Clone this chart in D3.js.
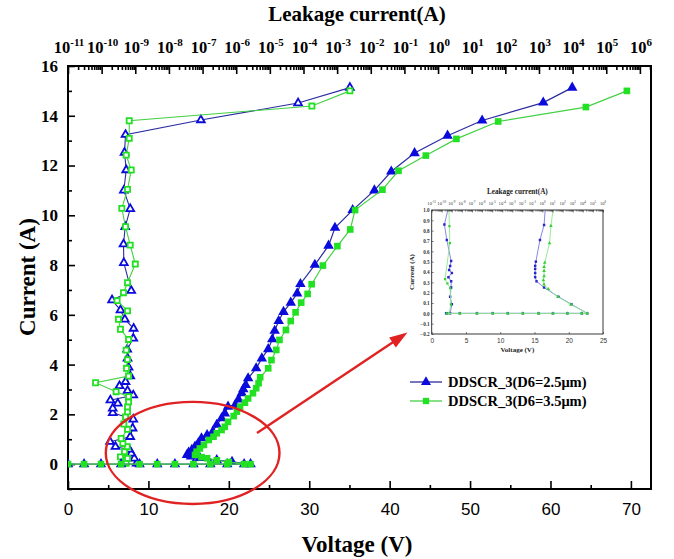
<!DOCTYPE html>
<html><head><meta charset="utf-8">
<script src="https://cdn.jsdelivr.net/npm/d3@7"></script>
<style>body{margin:0;background:#fff}</style>
</head><body>
<svg id="c" width="674" height="559"></svg>
<script>
// ---------- DATA ----------
// Main I-V curves (Voltage V, Current A), filled markers
const blueV = [0,2,4.1,6.6,8.9,11.1,13.3,15.6,17.7,19.8,21.9,22.7,20.4,18.5,16.4,15.3,14.8,15.0,15.4,15.8,16.2,16.6,17.3,18.0,18.5,19.1,19.5,19.9,20.8,21.2,21.6,21.8,22.1,22.4,23.4,24.1,24.9,25.4,25.7,26.2,26.8,27.7,28.5,28.9,30.7,32.4,33.2,35.4,38.1,40.2,43.1,47.2,51.5,59.1,62.7];
const blueI = [0,0,0,0,0,0,0,0,0,0,0,0,0.087,0.16,0.25,0.31,0.37,0.46,0.57,0.70,0.84,1.04,1.17,1.30,1.58,1.84,2.04,2.31,2.38,2.60,2.85,3.01,3.18,3.45,3.85,4.25,4.62,5.02,5.36,5.75,6.12,6.49,6.86,7.24,8.01,8.78,9.5,10.21,11.0,11.76,12.5,13.2,13.81,14.53,15.13];
const greenV = [0,2,4.1,6.6,8.9,11.1,13.3,15.6,17.7,19.8,21.9,22.7,20.0,18.5,17.3,16.6,15.8,16.0,16.4,16.9,17.5,18.1,18.5,19.1,19.5,19.9,20.6,21.0,21.4,22.0,22.4,23.0,23.4,23.7,23.9,24.9,25.3,25.9,26.3,27.1,27.7,28.3,29.0,29.8,30.3,31.7,33.5,35.1,35.7,39.1,41.1,44.5,48.3,53.5,64.4,69.5];
const greenI = [0,0,0,0,0,0,0,0,0,0,0,0,0.084,0.155,0.235,0.28,0.37,0.50,0.63,0.77,0.97,1.10,1.24,1.37,1.50,1.70,1.93,2.11,2.31,2.47,2.64,2.85,3.05,3.25,3.49,3.85,4.18,4.59,4.99,5.39,5.75,6.10,6.49,6.84,7.23,7.98,8.76,9.43,10.21,11.03,11.79,12.4,13.07,13.77,14.35,15.0];
// Leakage curves: log10(leakage current, A) vs current (A), hollow markers
const leakBlueExp = [-8.96,-9.03,-9.12,-9.18,-9.59,-9.75,-9.15,-9.08,-9.06,-9.67,-9.67,-9.52,-9.74,-9.06,-9.23,-9.47,-9.29,-9.15,-9.20,-9.23,-9.24,-9.06,-9.05,-9.31,-9.44,-9.69,-9.12,-9.34,-9.35,-9.30,-9.15,-9.34,-9.27,-9.32,-9.29,-7.05,-4.16,-2.62];
const leakBlueI = [0.03,0.23,0.43,0.59,0.70,0.90,1.10,1.44,1.80,2.06,2.24,2.44,2.57,2.77,2.95,3.14,3.31,3.54,3.89,4.25,4.61,5.05,5.45,5.82,6.19,6.59,6.97,8.09,8.84,9.54,10.26,11.0,11.82,12.52,13.24,13.83,14.51,15.13];
const leakGreenExp = [-9.27,-9.23,-9.44,-9.32,-9.24,-9.37,-9.42,-9.23,-9.34,-9.29,-9.23,-9.23,-9.20,-9.20,-9.57,-10.18,-9.20,-9.26,-9.23,-9.27,-9.20,-9.44,-9.50,-9.23,-9.54,-9.35,-9.23,-9.00,-9.15,-9.29,-9.40,-9.23,-9.12,-9.27,-9.18,-9.18,-3.75,-2.62];
const leakGreenI = [0.03,0.23,0.29,0.50,0.70,0.83,1.03,1.40,1.61,1.90,2.10,2.30,2.50,2.71,2.91,3.27,3.54,3.85,4.20,4.58,5.01,5.42,5.82,6.16,6.57,6.89,7.29,8.04,8.80,9.54,10.28,11.04,11.82,12.42,13.09,13.80,14.39,15.0];
// Inset (zoom 0..1 A)
const inBlueV = [2.2,4.1,6.6,8.9,11.1,13.3,15.6,17.7,19.8,21.9,22.7,20.4,18.5,16.4,15.3,15.1,15.1,15.1,15.1,15.2,15.8,16.4,16.6];
const inBlueI = [0,0,0,0,0,0,0,0,0,0,0,0.087,0.16,0.25,0.31,0.35,0.39,0.43,0.46,0.50,0.71,0.855,1.04];
const inGreenV = [2.2,4.1,6.6,8.9,11.1,13.3,15.6,17.7,19.8,21.9,22.7,20.3,18.4,17.0,16.4,16.3,16.4,16.4,16.4,16.5,17.2,17.4,17.9];
const inGreenI = [0,0,0,0,0,0,0,0,0,0,0,0.087,0.16,0.235,0.28,0.32,0.36,0.41,0.45,0.49,0.68,0.845,1.1];
const inLeakBlueExp = [-9.57,-9.17,-9.0,-9.17,-9.07,-9.07,-9.34,-9.0,-9.27,-9.17,-9.07,-9.5,-9.74,-9.15];
const inLeakBlueI = [0,0,0.087,0.16,0.25,0.31,0.35,0.39,0.42,0.458,0.506,0.71,0.86,1.10];
const inLeakGreenExp = [-9.27,-9.1,-9.17,-9.44,-9.67,-9.2,-9.24,-9.3];
const inLeakGreenI = [0,0.087,0.245,0.29,0.33,0.68,0.845,1.03];
// Ticks / labels
const vTicks = [0,10,20,30,40,50,60,70];
const iTicks = [0,2,4,6,8,10,12,14,16];
const decades = d3.range(-11,7);
const legendLabels = ["DDSCR_3(D6=2.5\u03bcm)","DDSCR_3(D6=3.5\u03bcm)"];

// ---------- STYLE ----------
const SERIF = "'Liberation Serif','Times New Roman',serif";
const SANS = "'Liberation Sans',Arial,sans-serif";
const BLUE_L = "#2a2aa0", BLUE_M = "#0a0adc";
const GREEN_L = "#44d044", GREEN_M = "#22e022";
const RED = "#e02222";

const svg = d3.select("#c");
const M = {l:68, r:651, t:66, b:489};
const x = d3.scaleLinear().domain([0,72.5]).range([M.l,M.r]);
const y = d3.scaleLinear().domain([-1,16]).range([M.b,M.t]);
const xt = d3.scaleLog().domain([1e-11, Math.pow(10,6.33)]).range([M.l,M.r]);

svg.append("clipPath").attr("id","pc").append("rect")
  .attr("x",M.l).attr("y",M.t).attr("width",M.r-M.l).attr("height",M.b-M.t);

// axes
function styleAxis(g){ g.select(".domain").remove(); g.selectAll("line").attr("stroke","#000").attr("stroke-width",1.6); }
svg.append("g").attr("transform",`translate(0,${M.b})`)
  .call(d3.axisBottom(x).tickValues(vTicks).tickSize(-8).tickSizeOuter(0).tickPadding(14))
  .call(styleAxis)
  .selectAll("text").attr("font-family",SANS).attr("font-size",17).attr("fill","#000");
svg.append("g").attr("transform",`translate(0,${M.b})`)
  .call(d3.axisBottom(x).tickValues(vTicks.map(v=>v+5).filter(v=>v<72.5)).tickSize(-4).tickSizeOuter(0).tickFormat(""))
  .call(styleAxis);
svg.append("g").attr("transform",`translate(${M.l},0)`)
  .call(d3.axisLeft(y).tickValues(iTicks).tickSize(-7).tickSizeOuter(0).tickPadding(10))
  .call(styleAxis)
  .selectAll("text").attr("font-family",SERIF).attr("font-weight","bold").attr("font-size",17).attr("fill","#000");
svg.append("g").attr("transform",`translate(${M.l},0)`)
  .call(d3.axisLeft(y).tickValues(d3.range(-1,16,2)).tickSize(-4).tickSizeOuter(0).tickFormat(""))
  .call(styleAxis);
// top log axis
const minorT = [];
decades.forEach(k=>{ for(let m=2;m<10;m++){ const v=m*Math.pow(10,k); if(v<=xt.domain()[1]) minorT.push(v);} });
svg.append("g").attr("transform",`translate(0,${M.t})`)
  .call(d3.axisTop(xt).tickValues(decades.map(k=>Math.pow(10,k))).tickSize(-8).tickSizeOuter(0).tickFormat(""))
  .call(styleAxis);
svg.append("g").attr("transform",`translate(0,${M.t})`)
  .call(d3.axisTop(xt).tickValues(minorT).tickSize(-4).tickSizeOuter(0).tickFormat(""))
  .call(styleAxis);
const tl = svg.append("g").selectAll("text").data(decades).join("text")
  .attr("x",k=>xt(Math.pow(10,k))+1).attr("y",53).attr("text-anchor","middle")
  .attr("font-family",SERIF).attr("font-weight","bold").attr("font-size",16.5);
tl.append("tspan").text("10");
tl.append("tspan").attr("dy",-7).attr("font-size",11).text(k=>k);

// frame
svg.append("rect").attr("x",M.l).attr("y",M.t).attr("width",M.r-M.l).attr("height",M.b-M.t)
  .attr("fill","none").attr("stroke","#000").attr("stroke-width",2);

// titles
svg.append("text").attr("x",357).attr("y",21).attr("text-anchor","middle")
  .attr("font-family",SERIF).attr("font-weight","bold").attr("font-size",21).text("Leakage current(A)");
svg.append("text").attr("x",357).attr("y",552).attr("text-anchor","middle")
  .attr("font-family",SERIF).attr("font-weight","bold").attr("font-size",23).text("Voltage (V)");
svg.append("text").attr("transform","translate(35,277) rotate(-90)").attr("text-anchor","middle")
  .attr("font-family",SERIF).attr("font-weight","bold").attr("font-size",23).text("Current (A)");

// data
const plot = svg.append("g").attr("clip-path","url(#pc)");
const tri = (s)=>d3.symbol(d3.symbolTriangle, s)();
const sq = (s)=>d3.symbol(d3.symbolSquare, s)();
function series(g, xs, ys, sx, sy, lineColor, lw, shape, fill, stroke, sw){
  const pts = xs.map((v,i)=>[sx(v), sy(ys[i])]);
  g.append("path").attr("d",d3.line()(pts)).attr("fill","none").attr("stroke",lineColor).attr("stroke-width",lw);
  g.selectAll(null).data(pts).join("path").attr("d",shape)
    .attr("transform",d=>`translate(${d[0]},${d[1]})`)
    .attr("fill",fill).attr("stroke",stroke).attr("stroke-width",sw);
}
const xl = v=>xt(Math.pow(10,v));
series(plot, leakBlueExp, leakBlueI, xl, y, BLUE_L, 1.1, tri(26), "#fff", BLUE_M, 1.8);
series(plot, leakGreenExp, leakGreenI, xl, y, GREEN_L, 1.1, sq(26), "#fff", GREEN_M, 1.8);
series(plot, blueV, blueI, x, y, BLUE_L, 1.2, tri(48), BLUE_M, "none", 0);
series(plot, greenV, greenI, x, y, GREEN_L, 1.2, sq(44), GREEN_M, "none", 0);

// legend
const leg = svg.append("g");
[[BLUE_L,BLUE_M,tri(44)],[GREEN_L,GREEN_M,sq(40)]].forEach((c,i)=>{
  const yy = 382 + i*19;
  leg.append("line").attr("x1",410).attr("x2",442).attr("y1",yy).attr("y2",yy).attr("stroke",c[0]).attr("stroke-width",1.3);
  leg.append("path").attr("d",c[2]).attr("transform",`translate(426,${yy})`).attr("fill",c[1]);
  leg.append("text").attr("x",448).attr("y",yy).attr("dy","0.35em")
    .attr("font-family",SERIF).attr("font-weight","bold").attr("font-size",14.5).text(legendLabels[i]);
});

// red annotation
svg.append("ellipse").attr("cx",x(15.5)).attr("cy",y(0.45)).attr("rx",x(10.8)-x(0)).attr("ry",y(0)-y(2.05))
  .attr("fill","none").attr("stroke",RED).attr("stroke-width",2.4);
const a0=[x(23.5),y(1.25)], a1=[x(41.8),y(5.2)];
svg.append("line").attr("x1",a0[0]).attr("y1",a0[1]).attr("x2",a1[0]).attr("y2",a1[1]).attr("stroke",RED).attr("stroke-width",2.4);
const ang = Math.atan2(a1[1]-a0[1], a1[0]-a0[0]);
const hl=14, hw=6;
const hp = [[a1[0]+4*Math.cos(ang),a1[1]+4*Math.sin(ang)],
 [a1[0]-hl*Math.cos(ang)+hw*Math.sin(ang), a1[1]-hl*Math.sin(ang)-hw*Math.cos(ang)],
 [a1[0]-hl*Math.cos(ang)-hw*Math.sin(ang), a1[1]-hl*Math.sin(ang)+hw*Math.cos(ang)]];
svg.append("path").attr("d","M"+hp.map(p=>p.join(",")).join("L")+"Z").attr("fill",RED);

// ---------- INSET ----------
const I = {l:431.7, r:603, t:210, b:334};
const ix = d3.scaleLinear().domain([0,25]).range([I.l,I.r]);
const iy = d3.scaleLinear().domain([-0.2,1.0]).range([I.b,I.t]);
const ixt = d3.scaleLog().domain([1e-11,1e6]).range([I.l,I.r]);
const ins = svg.append("g");
ins.append("rect").attr("x",I.l).attr("y",I.t).attr("width",I.r-I.l).attr("height",I.b-I.t).attr("fill","#fff");
ins.append("clipPath").attr("id","ic").append("rect").attr("x",I.l).attr("y",I.t).attr("width",I.r-I.l).attr("height",I.b-I.t);
const ip = ins.append("g").attr("clip-path","url(#ic)");
const ixl = v=>ixt(Math.pow(10,v));
series(ip, inLeakBlueExp, inLeakBlueI, ixl, iy, "#7a7ae0", 0.9, sq(6), "#2828c8", "none", 0);
series(ip, inLeakGreenExp, inLeakGreenI, ixl, iy, "#8ce88c", 0.9, sq(5), "#38d038", "none", 0);
series(ip, inBlueV, inBlueI, ix, iy, "#7a7ae0", 0.9, sq(6), "#2828c8", "none", 0);
series(ip, inGreenV, inGreenI, ix, iy, "#8ce88c", 0.9, tri(6), "#38d038", "none", 0);
function styleI(g){ g.select(".domain").remove(); g.selectAll("line").attr("stroke","#333").attr("stroke-width",0.6); }
ins.append("g").attr("transform",`translate(0,${I.b})`)
  .call(d3.axisBottom(ix).tickValues([0,5,10,15,20,25]).tickSize(-2).tickSizeOuter(0).tickPadding(4))
  .call(styleI).selectAll("text").attr("font-family",SANS).attr("font-size",6.5).attr("fill","#333");
ins.append("g").attr("transform",`translate(${I.l},0)`)
  .call(d3.axisLeft(iy).tickValues(d3.range(-2,11).map(d=>d/10)).tickSize(-2).tickSizeOuter(0).tickPadding(2).tickFormat(d3.format(".1f")))
  .call(styleI).selectAll("text").attr("font-family",SERIF).attr("font-weight","bold").attr("font-size",5.2).attr("fill","#333");
const iminor=[]; d3.range(-11,6).forEach(k=>{for(let m=2;m<10;m++) iminor.push(m*Math.pow(10,k));});
ins.append("g").attr("transform",`translate(0,${I.t})`)
  .call(d3.axisTop(ixt).tickValues(iminor).tickSize(-1.5).tickSizeOuter(0).tickFormat(""))
  .call(styleI);
ins.append("g").attr("transform",`translate(0,${I.t})`)
  .call(d3.axisTop(ixt).tickValues(decades.map(k=>Math.pow(10,k))).tickSize(-2.5).tickSizeOuter(0).tickFormat(""))
  .call(styleI);
const itl = ins.append("g").selectAll("text").data(decades).join("text")
  .attr("x",k=>ixt(Math.pow(10,k))).attr("y",205).attr("text-anchor","middle")
  .attr("font-family",SERIF).attr("font-size",4.6).attr("fill","#333");
itl.append("tspan").text("10");
itl.append("tspan").attr("dy",-1.8).attr("font-size",3.2).text(k=>k);
ins.append("rect").attr("x",I.l).attr("y",I.t).attr("width",I.r-I.l).attr("height",I.b-I.t)
  .attr("fill","none").attr("stroke","#222").attr("stroke-width",0.9);
ins.append("text").attr("x",(I.l+I.r)/2).attr("y",194).attr("text-anchor","middle")
  .attr("font-family",SERIF).attr("font-weight","bold").attr("font-size",7.2).attr("fill","#222").text("Leakage current(A)");
ins.append("text").attr("x",(I.l+I.r)/2).attr("y",352).attr("text-anchor","middle")
  .attr("font-family",SERIF).attr("font-weight","bold").attr("font-size",7).attr("fill","#222").text("Voltage (V)");
ins.append("text").attr("transform",`translate(414,${(I.t+I.b)/2}) rotate(-90)`).attr("text-anchor","middle")
  .attr("font-family",SERIF).attr("font-weight","bold").attr("font-size",7).attr("fill","#222").text("Current (A)");
</script>
</body></html>
